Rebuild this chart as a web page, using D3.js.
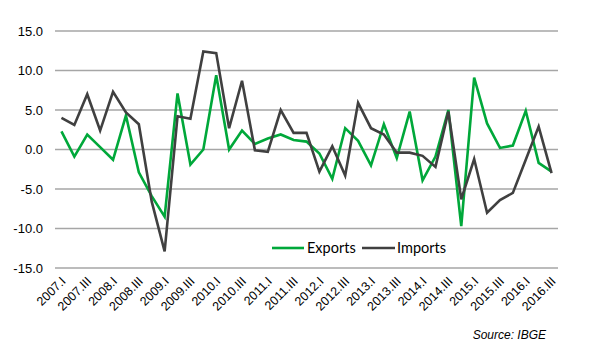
<!DOCTYPE html>
<html><head><meta charset="utf-8">
<script src="https://cdn.jsdelivr.net/npm/d3@7"></script>
<style>body{margin:0;background:#fff}svg{display:block}</style>
</head><body><svg id="c" width="590" height="354"></svg>
<script>
const years = [2007,2008,2009,2010,2011,2012,2013,2014,2015,2016];
const roman = ["I","II","III","IV"];
const quarters = [];
years.forEach(y => roman.forEach(r => quarters.push(y + "." + r)));
quarters.splice(39);
const exportsVals = [2.3,-0.9,1.9,0.3,-1.3,4.3,-2.9,-5.9,-8.5,7.1,-1.9,0.0,9.4,0.0,2.4,0.7,1.4,1.9,1.2,1.0,-0.5,-3.7,2.7,1.1,-2.0,3.2,-1.1,4.8,-3.9,-0.9,5.0,-9.7,9.1,3.3,0.2,0.5,4.9,-1.7,-2.8];
const importsVals = [4.0,3.1,7.0,2.4,7.3,4.7,3.2,-6.6,-12.9,4.2,3.9,12.4,12.2,2.7,8.7,-0.1,-0.3,5.0,2.1,2.1,-2.8,0.4,-3.3,5.9,2.7,1.9,-0.4,-0.4,-0.8,-2.2,4.8,-6.3,-1.2,-8.0,-6.4,-5.5,-1.3,2.9,-3.0];
const yTicks = [-15,-10,-5,0,5,10,15];
const seriesNames = ["Exports","Imports"];
const colors = ["#00a83a","#404040"];

const svg = d3.select("#c");
const m = {l:55, r:32, t:31, b:86};
const W = 590, H = 354;
const x = d3.scaleBand().domain(quarters).range([m.l, W - m.r]);
const y = d3.scaleLinear().domain([-15,15]).range([H - m.b, m.t]);

svg.append("g").selectAll("line").data(yTicks).join("line")
  .attr("x1", m.l).attr("x2", W - m.r)
  .attr("y1", d => y(d)).attr("y2", d => y(d))
  .attr("stroke", "#a6a6a6").attr("stroke-width", 1.3);

svg.append("g").selectAll("text").data(yTicks).join("text")
  .attr("x", 43).attr("y", d => y(d)).attr("dy", "0.35em")
  .attr("text-anchor", "end")
  .attr("font-family", "Liberation Sans, Arial, sans-serif").attr("font-size", 13)
  .attr("fill", "#000")
  .text(d => d.toFixed(1));

const labelQ = quarters.filter((q, i) => i % 2 === 0);
svg.append("g").selectAll("text").data(labelQ).join("text")
  .attr("transform", d => `translate(${x(d) + x.bandwidth()/2 + 5},${H - m.b + 14}) rotate(-45)`)
  .attr("text-anchor", "end")
  .attr("font-family", "Liberation Sans, Arial, sans-serif").attr("font-size", 12.5)
  .attr("fill", "#000")
  .text(d => d);

const line = d3.line().x((d, i) => x(quarters[i]) + x.bandwidth()/2).y(d => y(d));
[exportsVals, importsVals].forEach((vals, k) => {
  svg.append("path").datum(vals)
    .attr("d", line).attr("fill", "none")
    .attr("stroke", colors[k]).attr("stroke-width", 2.6)
    .attr("stroke-linejoin", "miter");
});

// legend
const lg = svg.append("g").attr("font-family", "Lato, Carlito, sans-serif").attr("font-size", 14.5);
const legendPos = [{x1:272, x2:304, tx:307}, {x1:362, x2:395, tx:397}];
seriesNames.forEach((n, k) => {
  lg.append("line").attr("x1", legendPos[k].x1).attr("x2", legendPos[k].x2)
    .attr("y1", 248).attr("y2", 248).attr("stroke", colors[k]).attr("stroke-width", 2.6);
  lg.append("text").attr("x", legendPos[k].tx).attr("y", 248).attr("dy", "0.35em")
    .attr("fill", "#000").text(n);
});

svg.append("text").attr("x", 546).attr("y", 339).attr("text-anchor", "end")
  .attr("font-family", "Liberation Sans, Arial, sans-serif").attr("font-size", 12)
  .attr("font-style", "italic").attr("fill", "#000").text("Source: IBGE");
</script></body></html>
